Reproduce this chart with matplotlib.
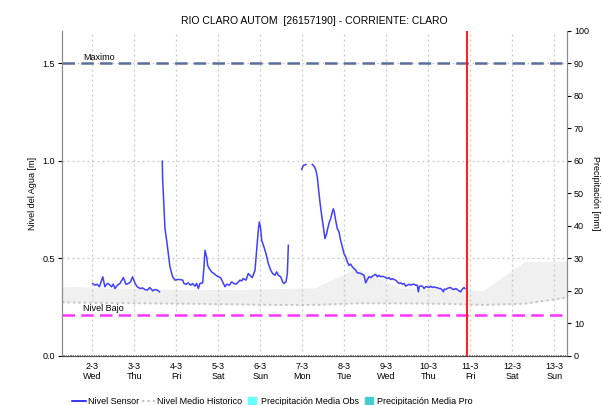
"""Nivel del agua RIO CLARO AUTOM con banda historica y umbrales."""
import matplotlib

matplotlib.use("Agg")
import matplotlib.pyplot as plt
from matplotlib.lines import Line2D
from matplotlib.ticker import MultipleLocator

plt.rcParams["font.family"] = ["Liberation Sans", "DejaVu Sans"]

TITULO = "RIO CLARO AUTOM  [26157190] - CORRIENTE: CLARO"
NIVEL_MAXIMO = 1.5
NIVEL_BAJO = 0.21
DIA_ACTUAL = 10.914  # dia del mes (fraccion = hora)

# dias del mes marcados en el eje x
dias_tick = [2, 3, 4, 5, 6, 7, 8, 9, 10, 11, 12, 13]
dias_semana = ["Wed", "Thu", "Fri", "Sat", "Sun", "Mon", "Tue", "Wed", "Thu", "Fri", "Sat", "Sun"]

# nivel historico: medio y limite superior de la banda (valores diarios)
dias_hist = [1.28, 2.3, 3.3, 4.3, 5.3, 6.3, 7.3, 8.3, 9.3, 10.3, 11.3, 12.3, 13.3]
hist_medio = [0.275, 0.272, 0.27, 0.268, 0.265, 0.262, 0.262, 0.27, 0.27, 0.268, 0.262, 0.268, 0.30]
hist_superior = [0.357, 0.35, 0.345, 0.34, 0.34, 0.345, 0.35, 0.45, 0.35, 0.345, 0.335, 0.485, 0.485]

# nivel sensor, por tramos (entre tramos no hay dato)
t1_dia = [2.01, 2.06, 2.12, 2.17, 2.25, 2.30, 2.36, 2.40, 2.46, 2.50, 2.54, 2.60, 2.66, 2.74,
          2.80, 2.86, 2.91, 2.96, 3.02, 3.07, 3.14, 3.20, 3.25, 3.31, 3.37, 3.44, 3.49, 3.55, 3.60]
t1_nivel = [0.372, 0.363, 0.368, 0.355, 0.406, 0.355, 0.372, 0.368, 0.355, 0.368, 0.346, 0.363,
            0.372, 0.402, 0.368, 0.372, 0.380, 0.406, 0.372, 0.355, 0.346, 0.349, 0.341, 0.338,
            0.351, 0.334, 0.341, 0.338, 0.329]

t2_dia = [3.667, 3.675, 3.707, 3.731, 3.771, 3.810, 3.850, 3.914, 3.969, 4.025, 4.088, 4.152,
          4.183, 4.231, 4.286, 4.342, 4.390, 4.445, 4.485, 4.525, 4.564, 4.628, 4.660, 4.683,
          4.723, 4.747, 4.786, 4.842, 4.898, 4.945, 5.001, 5.056, 5.104, 5.160, 5.199, 5.263,
          5.318, 5.374, 5.421, 5.477, 5.517, 5.556, 5.596, 5.660, 5.715, 5.755, 5.810, 5.874,
          5.913, 5.953, 5.977, 6.009, 6.033, 6.088, 6.136, 6.191, 6.247, 6.294, 6.350, 6.390,
          6.429, 6.485, 6.533, 6.564, 6.612, 6.644, 6.668]
t2_nivel = [0.999, 0.909, 0.764, 0.653, 0.593, 0.525, 0.457, 0.406, 0.389, 0.392, 0.392, 0.389,
            0.372, 0.368, 0.375, 0.363, 0.372, 0.358, 0.372, 0.346, 0.372, 0.375, 0.457, 0.542,
            0.508, 0.465, 0.448, 0.431, 0.423, 0.414, 0.406, 0.402, 0.380, 0.355, 0.368, 0.363,
            0.380, 0.372, 0.368, 0.380, 0.389, 0.385, 0.397, 0.389, 0.423, 0.414, 0.402, 0.440,
            0.542, 0.645, 0.687, 0.653, 0.593, 0.559, 0.525, 0.474, 0.440, 0.423, 0.414, 0.431,
            0.414, 0.406, 0.380, 0.372, 0.380, 0.423, 0.568]

t3_dia = [6.985, 7.025, 7.088]
t3_nivel = [0.957, 0.977, 0.982]

t4_dia = [7.239, 7.286, 7.326, 7.358, 7.382, 7.421, 7.461, 7.501, 7.540, 7.580, 7.604, 7.644,
          7.675, 7.715, 7.739, 7.763, 7.794, 7.834, 7.874, 7.913, 7.953, 7.993, 8.033, 8.072,
          8.112, 8.152, 8.191, 8.231, 8.271, 8.310, 8.350, 8.390, 8.429, 8.469, 8.509, 8.548,
          8.588, 8.628, 8.667, 8.707, 8.747, 8.786, 8.826, 8.866, 8.905, 8.945, 8.985, 9.025,
          9.064, 9.104, 9.144, 9.183, 9.223, 9.263, 9.302, 9.342, 9.382, 9.421, 9.461, 9.501,
          9.540, 9.580, 9.620, 9.660, 9.699, 9.739, 9.763, 9.787, 9.818, 9.858, 9.898, 9.937,
          9.977, 10.017, 10.056, 10.096, 10.136, 10.175, 10.215, 10.255, 10.294, 10.334, 10.358,
          10.382, 10.413, 10.453, 10.493, 10.533, 10.572, 10.612, 10.652, 10.691, 10.731,
          10.771, 10.810, 10.850, 10.874]
t4_nivel = [0.982, 0.972, 0.951, 0.917, 0.866, 0.789, 0.721, 0.662, 0.602, 0.627, 0.653, 0.687,
            0.704, 0.738, 0.755, 0.738, 0.696, 0.653, 0.636, 0.593, 0.559, 0.525, 0.508, 0.483,
            0.465, 0.471, 0.457, 0.448, 0.440, 0.426, 0.426, 0.423, 0.419, 0.414, 0.375, 0.392,
            0.406, 0.402, 0.409, 0.414, 0.419, 0.406, 0.414, 0.406, 0.409, 0.406, 0.402, 0.397,
            0.402, 0.392, 0.397, 0.392, 0.389, 0.380, 0.372, 0.375, 0.368, 0.372, 0.358, 0.363,
            0.368, 0.363, 0.367, 0.368, 0.363, 0.363, 0.329, 0.355, 0.360, 0.358, 0.346, 0.355,
            0.355, 0.351, 0.358, 0.351, 0.355, 0.351, 0.350, 0.346, 0.346, 0.338, 0.329,
            0.343, 0.341, 0.346, 0.350, 0.351, 0.343, 0.341, 0.346, 0.341, 0.334,
            0.329, 0.343, 0.351, 0.346]

tramos = [(t1_dia, t1_nivel), (t2_dia, t2_nivel), (t3_dia, t3_nivel), (t4_dia, t4_nivel)]

AZUL = "#3f3fff"
GRIS_EJE = "#8c8c8c"

fig = plt.figure(figsize=(6.03, 4.05), dpi=100)
ax = fig.add_axes([0.1028, 0.121, 0.8375, 0.8025])
ax2 = ax.twinx()

# banda historica y nivel medio
ax.fill_between(dias_hist, hist_medio, hist_superior, color="#f0f0f0", lw=0, zorder=1)
ax.plot(dias_hist, hist_medio, color="#c4c4c4", lw=1.4, ls=(0, (1.2, 1.6)), zorder=2)

for dias, nivel in tramos:
    ax.plot(dias, nivel, color=AZUL, lw=1.1, zorder=4)

# umbrales
ax.axhline(NIVEL_MAXIMO, color="#5b6f9f", lw=1.8, ls=(0, (5, 2.5)), zorder=3)
ax.axhline(NIVEL_BAJO, color="#ff33ff", lw=1.8, ls=(0, (5, 2.5)), zorder=3)
ax.text(1.78, NIVEL_MAXIMO + 0.01, "Maximo", fontsize=6.5, va="bottom", ha="left")
ax.text(1.78, NIVEL_BAJO + 0.01, "Nivel Bajo", fontsize=6.5, va="bottom", ha="left")

ax.axvline(DIA_ACTUAL, color="#ff1a1a", lw=1.4, zorder=5)

ax.set_xlim(1.279, 13.302)
ax.set_ylim(0, 100 / 60)
ax2.set_ylim(0, 100)

ax.set_xticks(dias_tick)
ax.set_xticklabels([f"{d}-3\n{s}" for d, s in zip(dias_tick, dias_semana)], fontsize=6.5,
                   linespacing=1.25)
ax.xaxis.set_minor_locator(MultipleLocator(1 / 24))
ax.tick_params(axis="x", which="major", length=0, pad=4)
ax.tick_params(axis="x", which="minor", length=1.0, width=0.7, color="#202020", direction="in")

ax.set_yticks([0, 0.5, 1.0, 1.5])
ax.set_yticklabels(["0.0", "0.5", "1.0", "1.5"])
ax.tick_params(axis="y", length=3, width=0.8, color="black", labelsize=6.5, pad=2)
ax2.set_yticks(range(0, 101, 10))
ax2.tick_params(axis="y", length=3, width=0.8, color="black", labelsize=6.5, pad=2)

ax.grid(True, color="#c8c8c8", lw=0.9, ls=(0, (1.5, 2.5)))

for a in (ax, ax2):
    a.spines["top"].set_visible(False)
    a.spines["left"].set_color(GRIS_EJE)
    a.spines["right"].set_color(GRIS_EJE)
    a.spines["bottom"].set_color("#505050")

ax.set_ylabel("Nivel del Agua [m]", fontsize=6.5, labelpad=4)
ax2.set_ylabel("Precipitación [mm]", fontsize=6.5, rotation=270, labelpad=8)
ax.set_title(TITULO, fontsize=7.5, pad=5)

handles = [
    Line2D([], [], color="blue", lw=1.1),
    Line2D([], [], color="#c4c4c4", lw=1.4, ls=(0, (1.2, 1.6))),
    Line2D([], [], ls="", marker="s", markersize=6, color="#66ffff"),
    Line2D([], [], ls="", marker="s", markersize=6, color="#44cccc"),
]
labels = ["Nivel Sensor", "Nivel Medio Historico", "Precipitación Media Obs",
          "Precipitación Media Pro"]
fig.legend(handles, labels, loc="center", bbox_to_anchor=(0.452, 0.008), ncol=4, frameon=False,
           fontsize=6.5, handlelength=1.5, handletextpad=0.2, columnspacing=0.35)

fig.savefig("out.png", dpi=100)
